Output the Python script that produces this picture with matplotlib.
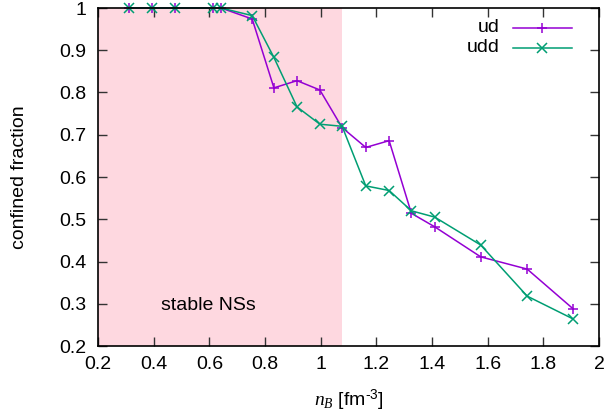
import matplotlib
matplotlib.use("Agg")
import matplotlib.pyplot as plt
from matplotlib.lines import Line2D

plt.rcParams['font.family'] = ['Liberation Sans', 'DejaVu Sans']
plt.rcParams['mathtext.fontset'] = 'custom'
plt.rcParams['mathtext.rm'] = 'Liberation Sans'
plt.rcParams['mathtext.it'] = 'Liberation Serif:italic'

# data
nB = [0.311, 0.394, 0.476, 0.613, 0.642, 0.754, 0.832, 0.915, 0.997, 1.077,
      1.162, 1.246, 1.326, 1.41, 1.575, 1.742, 1.907]
ud = [1.0, 1.0, 1.0, 1.0, 1.0, 0.974, 0.811, 0.828, 0.806, 0.717,
      0.670, 0.686, 0.514, 0.482, 0.411, 0.382, 0.288]
udd = [1.0, 1.0, 1.0, 1.0, 1.0, 0.982, 0.883, 0.766, 0.725, 0.720,
       0.579, 0.568, 0.520, 0.505, 0.439, 0.318, 0.264]
stable_max = 1.075
xticks = [0.2, 0.4, 0.6, 0.8, 1.0, 1.2, 1.4, 1.6, 1.8, 2.0]
xticklabels = ['0.2', '0.4', '0.6', '0.8', '1', '1.2', '1.4', '1.6', '1.8', '2']
yticks = [0.2, 0.3, 0.4, 0.5, 0.6, 0.7, 0.8, 0.9, 1.0]
yticklabels = ['0.2', '0.3', '0.4', '0.5', '0.6', '0.7', '0.8', '0.9', '1']

purple = '#9400d3'
green = '#009e73'
FS = 14

fig = plt.figure(figsize=(6.05, 4.19), dpi=100)
ax = fig.add_axes([98/605, 1-346/419, 501/605, 338/419])

ax.axvspan(0.2, stable_max, color='#fed8e0', lw=0, zorder=0)

ax.plot(nB, ud, color=purple, marker='+', ms=6.5, mew=1.1, lw=1.1, clip_on=False, zorder=3)
ax.plot(nB, udd, color=green, marker='x', ms=6.5, mew=1.1, lw=1.1, clip_on=False, zorder=3)

ax.set_xlim(0.2, 2.0)
ax.set_ylim(0.2, 1.0)
ax.set_xticks(xticks)
ax.set_xticklabels(xticklabels)
ax.set_yticks(yticks)
ax.set_yticklabels(yticklabels)
ax.tick_params(direction='in', length=6.5, width=1, top=True, right=True,
               labelsize=FS, pad=7, color='#333333')
ax.tick_params(axis='y', pad=8.5)
for s in ax.spines.values():
    s.set_linewidth(1.2)
    s.set_zorder(4)

ax.set_xlabel(r'$n_B$ [fm$^{\text{-3}}$]', fontsize=FS, labelpad=11)
ax.set_ylabel('confined fraction', fontsize=FS, labelpad=22)

ax.text(0.598, 0.297, 'stable NSs', fontsize=FS, ha='center', va='center')

# legend (gnuplot style: right-justified labels, sample to the right)
for label, col, mk, y in [('ud', purple, '+', 0.941), ('udd', green, 'x', 0.882)]:
    ax.text(0.802, y, label, transform=ax.transAxes, ha='right', va='center', fontsize=FS)
    ax.add_line(Line2D([0.828, 0.946], [y, y], transform=ax.transAxes, color=col, lw=1.1))
    ax.add_line(Line2D([0.887], [y], transform=ax.transAxes, color=col, marker=mk,
                       ms=6.5, mew=1.1, lw=0))

fig.savefig('out.png', dpi=100)
